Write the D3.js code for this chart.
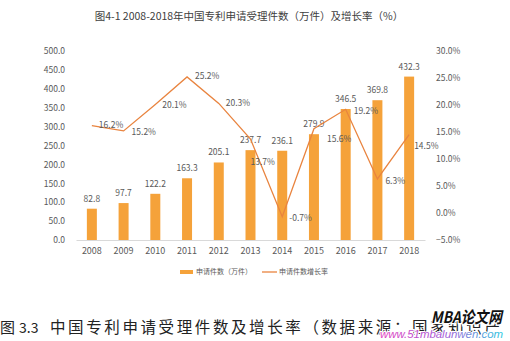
<!DOCTYPE html>
<html>
<head>
<meta charset="utf-8">
<script src="https://cdn.jsdelivr.net/npm/d3@7/dist/d3.min.js"></script>
<style>
  html, body { margin: 0; padding: 0; background: #fff; }
  svg { display: block; }
</style>
</head>
<body>
<script>
// ---- data ----
const years = ["2008","2009","2010","2011","2012","2013","2014","2015","2016","2017","2018"];
const applications = [82.8, 97.7, 122.2, 163.3, 205.1, 237.7, 236.1, 279.9, 346.5, 369.8, 432.3];
const growthRate = [16.2, 15.2, 20.1, 25.2, 20.3, 13.7, -0.7, 15.6, 19.2, 6.3, 14.5];
const leftTicks = [0, 50, 100, 150, 200, 250, 300, 350, 400, 450, 500];
const rightTicks = [-5, 0, 5, 10, 15, 20, 25, 30];
const titleText = "图4-1 2008-2018年中国专利申请受理件数（万件）及增长率（%）";
const legendLabels = ["申请件数（万件）", "申请件数增长率"];
const captionFig = "图";
const captionNum = "3.3";
const captionText = "中国专利申请受理件数及增长率（数据来源：国家知识产";

// label placement tweaks for the growth-rate labels (dx, dy from point)
const rateLabelOffsets = [[7,0],[8,1],[7,1],[8,-1],[7,0],[0,23],[7,1],[13,10],[8,2],[8,2],[5,11]];

const W = 510, H = 341;
const barColor = "#F5A23A";
const lineColor = "#E9843F";
const textColor = "#595959";
const cjk = "'Noto Sans CJK SC', 'Noto Sans', sans-serif";

const svg = d3.select("body").append("svg").attr("width", W).attr("height", H);
svg.append("rect").attr("width", W).attr("height", H).attr("fill", "#fff");

const x = d3.scaleBand().domain(years).range([76, 425]).paddingInner(0.685).paddingOuter(0.3425);
const yL = d3.scaleLinear().domain([0, 500]).range([240, 51]);
const yR = d3.scaleLinear().domain([-5, 30]).range([240, 51]);

// title
svg.append("text").attr("x", 249).attr("y", 20).attr("text-anchor", "middle")
  .attr("font-family", cjk).attr("font-size", 10.5).attr("fill", "#404040")
  .text(titleText);

// left axis
const axL = svg.append("g").attr("transform", "translate(68,0)")
  .call(d3.axisLeft(yL).tickValues(leftTicks).tickFormat(d3.format(".1f")).tickSize(0).tickPadding(3));
axL.select(".domain").remove();
axL.selectAll("text").attr("font-family", cjk).attr("font-size", 8.5).attr("fill", textColor);

// right axis
const axR = svg.append("g").attr("transform", "translate(433,0)")
  .call(d3.axisRight(yR).tickValues(rightTicks).tickFormat(d => d3.format(".1f")(d) + "%").tickSize(0).tickPadding(3));
axR.select(".domain").remove();
axR.selectAll("text").attr("font-family", cjk).attr("font-size", 8.5).attr("fill", textColor);

// bottom axis
const axB = svg.append("g").attr("transform", "translate(0,240)")
  .call(d3.axisBottom(x).tickSize(0).tickPadding(8));
axB.select(".domain").attr("stroke", "#D9D9D9");
axB.selectAll("text").attr("font-family", cjk).attr("font-size", 9).attr("fill", textColor);

// bars
svg.append("g").selectAll("rect").data(applications).join("rect")
  .attr("x", (d, i) => x(years[i]))
  .attr("width", x.bandwidth())
  .attr("y", d => yL(d))
  .attr("height", d => yL(0) - yL(d))
  .attr("fill", barColor);

// bar labels
svg.append("g").selectAll("text").data(applications).join("text")
  .attr("x", (d, i) => x(years[i]) + x.bandwidth() / 2)
  .attr("y", d => yL(d) - 7)
  .attr("text-anchor", "middle")
  .attr("font-family", cjk).attr("font-size", 8.5).attr("fill", textColor)
  .text(d => d.toFixed(1));

// line
const line = d3.line()
  .x((d, i) => x(years[i]) + x.bandwidth() / 2)
  .y(d => yR(d));
svg.append("path").datum(growthRate).attr("d", line)
  .attr("fill", "none").attr("stroke", lineColor).attr("stroke-width", 1.3);

// line labels
svg.append("g").selectAll("text").data(growthRate).join("text")
  .attr("x", (d, i) => x(years[i]) + x.bandwidth() / 2 + rateLabelOffsets[i][0])
  .attr("y", (d, i) => yR(d) + rateLabelOffsets[i][1])
  .attr("dy", "0.35em")
  .attr("font-family", cjk).attr("font-size", 8.5).attr("fill", textColor)
  .text(d => d.toFixed(1) + "%");

// legend
const lg = svg.append("g");
lg.append("rect").attr("x", 180).attr("y", 270).attr("width", 13).attr("height", 4).attr("fill", barColor);
lg.append("text").attr("x", 196).attr("y", 272).attr("dy", "0.35em")
  .attr("font-family", cjk).attr("font-size", 7).attr("fill", textColor).text(legendLabels[0]);
lg.append("line").attr("x1", 262).attr("x2", 277).attr("y1", 272).attr("y2", 272)
  .attr("stroke", lineColor).attr("stroke-width", 1.3);
lg.append("text").attr("x", 279).attr("y", 272).attr("dy", "0.35em")
  .attr("font-family", cjk).attr("font-size", 7).attr("fill", textColor).text(legendLabels[1]);

// caption
const cap = svg.append("g").attr("font-family", cjk).attr("fill", "#222");
cap.append("text").attr("x", 0).attr("y", 333).attr("font-size", 15).text(captionFig);
cap.append("text").attr("x", 19).attr("y", 333).attr("font-size", 14).text(captionNum);
cap.append("text").attr("x", 50).attr("y", 333)
  .attr("font-size", 15.5).attr("letter-spacing", 2.6)
  .text(captionText);

// watermark
const defs = svg.append("defs");
const grad = defs.append("linearGradient").attr("id", "wm").attr("x1", "0%").attr("x2", "100%");
grad.append("stop").attr("offset", "0%").attr("stop-color", "#E040C0");
grad.append("stop").attr("offset", "55%").attr("stop-color", "#A060D8");
grad.append("stop").attr("offset", "100%").attr("stop-color", "#30C8E0");
svg.append("text").attr("x", 431).attr("y", 323)
  .attr("font-family", "'Noto Sans CJK SC', sans-serif").attr("font-weight", "bold")
  .attr("font-style", "italic").attr("font-size", 16)
  .attr("textLength", 71).attr("lengthAdjust", "spacingAndGlyphs").attr("fill", "#111")
  .attr("stroke", "#fff").attr("stroke-width", 2.5).attr("paint-order", "stroke")
  .text("MBA论文网");
svg.append("text").attr("x", 380).attr("y", 338)
  .attr("font-family", "'Liberation Sans', sans-serif").attr("font-style", "italic")
  .attr("font-size", 11.5).attr("textLength", 123).attr("lengthAdjust", "spacingAndGlyphs")
  .attr("fill", "url(#wm)")
  .attr("stroke", "#fff").attr("stroke-width", 2).attr("paint-order", "stroke")
  .text("www.51mbalunwen.com");
</script>
</body>
</html>
